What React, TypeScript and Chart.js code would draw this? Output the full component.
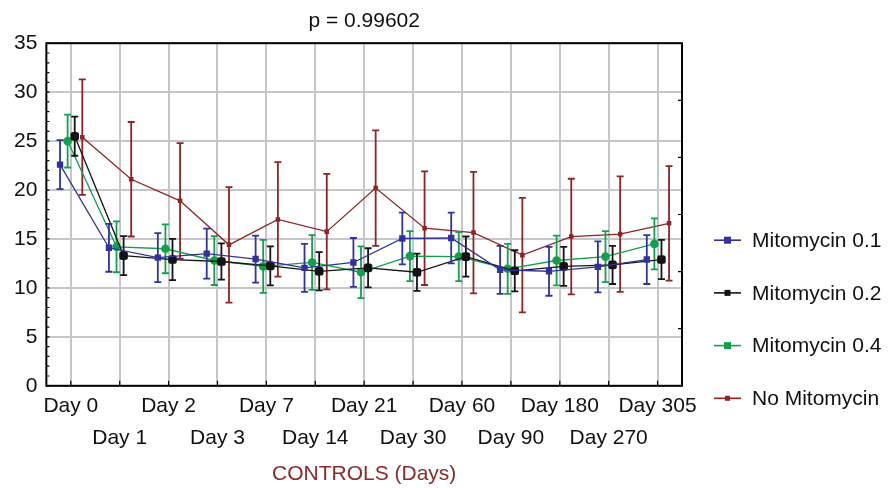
import React, { useEffect, useRef } from 'react';
import { Chart, registerables } from 'chart.js';

Chart.register(...registerables);

// ---- data ----
const categories = ['Day 0', 'Day 1', 'Day 2', 'Day 3', 'Day 7', 'Day 14', 'Day 21', 'Day 30', 'Day 60', 'Day 90', 'Day 180', 'Day 270', 'Day 305'];

const seriesNames = ['Mitomycin 0.1', 'Mitomycin 0.2', 'Mitomycin 0.4', 'No Mitomycin'];

const mito01 = [22.6, 14.1, 13.1, 13.5, 12.95, 12.05, 12.6, 15.05, 15.1, 11.85, 11.7, 12.15, 12.9];
const mito01Err = [2.5, 2.45, 2.5, 2.55, 2.4, 2.45, 2.5, 2.65, 2.6, 2.45, 2.5, 2.6, 2.5];

const mito02 = [25.5, 13.3, 12.9, 12.7, 12.25, 11.7, 12.05, 11.6, 13.2, 11.75, 12.2, 12.35, 12.9];
const mito02Err = [2.0, 2.0, 2.1, 1.85, 2.0, 1.95, 2.0, 1.9, 2.05, 2.1, 2.0, 1.95, 2.0];

const mito04 = [25.0, 14.2, 14.0, 12.8, 12.2, 12.6, 11.6, 13.25, 13.2, 11.95, 12.8, 13.2, 14.5];
const mito04Err = [2.7, 2.6, 2.5, 2.5, 2.7, 2.8, 2.65, 2.55, 2.5, 2.55, 2.55, 2.6, 2.6];

const noMito = [25.4, 21.1, 18.9, 14.4, 17.0, 15.75, 20.2, 16.1, 15.65, 13.35, 15.25, 15.5, 16.6];
const noMitoErr = [5.9, 5.85, 5.9, 5.9, 5.85, 5.9, 5.9, 5.8, 6.2, 5.85, 5.9, 5.9, 5.85];

const yTicksMin = 0;
const yTicksMax = 35;
const yTickStep = 5;

const titleText = 'p = 0.99602';
const xTitleText = 'CONTROLS (Days)';

// ---- styles ----
const FONT = "'Liberation Sans', Arial, Helvetica, sans-serif";
const GRID = '#c4c6cc';
const TEXT = '#111111';

const seriesStyle = [
  { color: '#30339a', shift: -0.22, style: 'rect', radius: 4.5, legendSize: 7 },
  { color: '#141414', shift: 0.08, style: 'rectRounded', radius: 5, legendSize: 6 },
  { color: '#12a04e', shift: -0.065, style: 'circle', radius: 4.3, legendSize: 7 },
  { color: '#8e2424', shift: 0.235, style: 'rect', radius: 3.2, legendSize: 5 },
];

const errorBarsPlugin = {
  id: 'errorBars',
  afterDatasetDraw(chart: any, args: any) {
    const ds = chart.data.datasets[args.index];
    const meta = args.meta;
    const ys = chart.scales.y;
    const ctx = chart.ctx;
    ctx.save();
    ctx.strokeStyle = ds.borderColor;
    ctx.lineWidth = 1.8;
    meta.data.forEach((pt: any, i: number) => {
      const v = ds.data[i].y;
      const e = ds.errors[i];
      const top = ys.getPixelForValue(v + e);
      const bot = ys.getPixelForValue(v - e);
      const x = pt.x;
      ctx.beginPath();
      ctx.moveTo(x, top);
      ctx.lineTo(x, bot);
      ctx.moveTo(x - 3.5, top);
      ctx.lineTo(x + 3.5, top);
      ctx.moveTo(x - 3.5, bot);
      ctx.lineTo(x + 3.5, bot);
      ctx.stroke();
    });
    ctx.restore();
  },
};

const framePlugin = {
  id: 'frame',
  beforeDatasetsDraw(chart: any) {
    const { ctx, chartArea: a, scales } = chart;
    ctx.save();
    ctx.strokeStyle = '#000';
    ctx.lineWidth = 1.2;
    ctx.beginPath();
    for (let v = yTicksMin; v <= yTicksMax; v += 1) {
      const y = scales.y.getPixelForValue(v);
      ctx.moveTo(a.left, y);
      ctx.lineTo(a.left + 3, y);
    }
    categories.forEach((_, i) => {
      const x = scales.x.getPixelForValue(i);
      ctx.moveTo(x, a.bottom);
      ctx.lineTo(x, a.bottom - 5);
    });
    for (let k = 1; k < 6; k++) {
      const y = a.top + (a.height * k) / 6;
      ctx.moveTo(a.right, y);
      ctx.lineTo(a.right - 4, y);
    }
    ctx.stroke();
    ctx.lineWidth = 2;
    ctx.strokeRect(a.left, a.top, a.width, a.height);
    ctx.restore();
  },
};

const legendPlugin = {
  id: 'sideLegend',
  afterDraw(chart: any) {
    const { ctx, chartArea: a } = chart;
    ctx.save();
    const x0 = a.right + 32;
    chart.data.datasets.forEach((ds: any, i: number) => {
      const st = seriesStyle[i];
      const y = a.top + 197 + i * 52.7;
      ctx.strokeStyle = ds.borderColor;
      ctx.fillStyle = ds.borderColor;
      ctx.lineWidth = 1.6;
      ctx.beginPath();
      ctx.moveTo(x0, y);
      ctx.lineTo(x0 + 27, y);
      ctx.stroke();
      const s = st.legendSize;
      ctx.fillRect(x0 + 13.5 - s / 2, y - s / 2, s, s);
      ctx.fillStyle = TEXT;
      ctx.font = `21px ${FONT}`;
      ctx.textBaseline = 'middle';
      ctx.textAlign = 'left';
      ctx.fillText(ds.label, x0 + 38, y + 1);
    });
    ctx.restore();
  },
};

export default function App() {
  const ref = useRef<HTMLCanvasElement>(null);

  useEffect(() => {
    if (!ref.current) return;
    const values = [mito01, mito02, mito04, noMito];
    const errors = [mito01Err, mito02Err, mito04Err, noMitoErr];
    const datasets = values.map((vals, s) => ({
      label: seriesNames[s],
      data: vals.map((v, i) => ({ x: i + seriesStyle[s].shift, y: v })),
      errors: errors[s],
      borderColor: seriesStyle[s].color,
      backgroundColor: seriesStyle[s].color,
      borderWidth: 1.3,
      pointRadius: seriesStyle[s].radius,
      pointStyle: seriesStyle[s].style,
      pointBorderWidth: 0,
      tension: 0,
    }));

    const chart = new Chart(ref.current, {
      type: 'line',
      data: { datasets } as any,
      plugins: [framePlugin, errorBarsPlugin, legendPlugin],
      options: {
        responsive: false,
        animation: false,
        layout: { padding: { left: 5, right: 207, top: 0, bottom: 0 } },
        plugins: {
          legend: { display: false },
          tooltip: { enabled: false },
          title: {
            display: true,
            text: titleText,
            fullSize: false,
            color: TEXT,
            font: { family: FONT, size: 21, weight: 'normal', lineHeight: 1.2 },
            padding: { top: 9, bottom: 9 },
          },
        },
        scales: {
          x: {
            type: 'linear',
            min: -0.5,
            max: categories.length - 0.5,
            afterBuildTicks: (axis: any) => {
              axis.ticks = categories.map((_, i) => ({ value: i }));
            },
            ticks: {
              autoSkip: false,
              maxRotation: 0,
              padding: 4,
              color: TEXT,
              font: { family: FONT, size: 21, lineHeight: 32 / 21 },
              callback: (v: any) => {
                const i = Math.round(Number(v));
                const lab = categories[i] ?? '';
                return i % 2 === 0 ? [lab, ''] : ['', lab];
              },
            },
            grid: { color: GRID, lineWidth: 2, drawTicks: false },
            border: { display: false },
            title: {
              display: true,
              text: xTitleText,
              color: '#8b2a2a',
              font: { family: FONT, size: 21, lineHeight: 1.2 },
              padding: { top: 4, bottom: 1 },
            },
          },
          y: {
            min: yTicksMin,
            max: yTicksMax,
            ticks: {
              stepSize: yTickStep,
              padding: 9,
              color: TEXT,
              font: { family: FONT, size: 21 },
            },
            grid: { color: GRID, lineWidth: 2, drawTicks: false },
            border: { display: false },
          },
        },
      } as any,
    });
    return () => chart.destroy();
  }, []);

  return (
    <div style={{ position: 'fixed', left: 0, top: 0, width: 889, height: 488, background: '#fff' }}>
      <canvas ref={ref} width={889} height={488} style={{ display: 'block' }} />
    </div>
  );
}
